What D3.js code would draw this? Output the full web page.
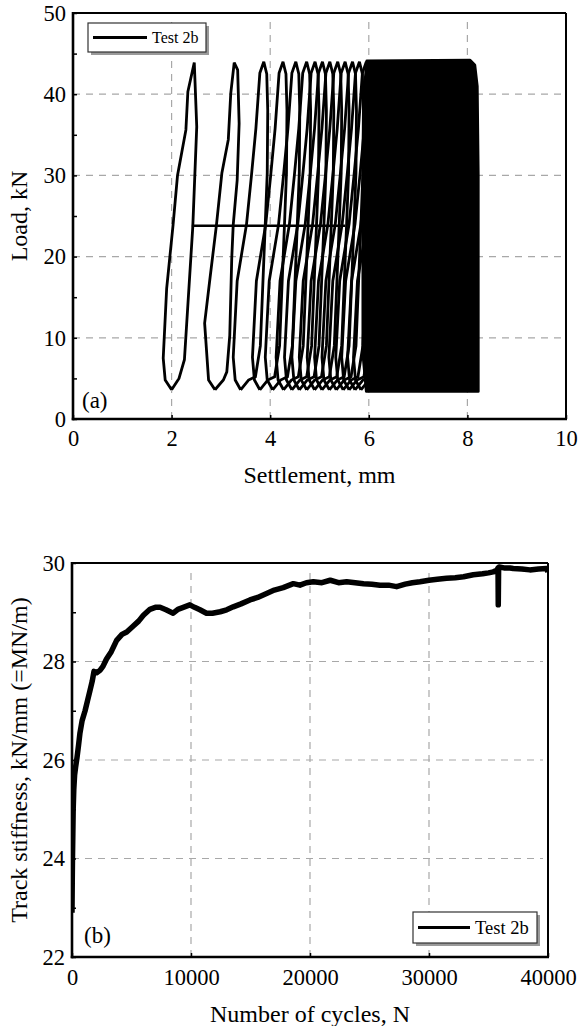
<!DOCTYPE html>
<html>
<head>
<meta charset="utf-8">
<script src="https://cdn.jsdelivr.net/npm/d3@7"></script>
<style>
  html, body { margin: 0; padding: 0; background: #fff; }
  svg { display: block; }
  svg text { font-family: 'Liberation Serif', 'Times New Roman', Tinos, 'DejaVu Serif', serif !important; fill: #000; }
</style>
</head>
<body>
<svg id="chart" width="579" height="1026"></svg>
<script>
// ---------------- DATA ----------------
// Panel (a): load vs settlement
const settlementTicks = [0, 2, 4, 6, 8, 10];
const loadTicks = [0, 10, 20, 30, 40, 50];
const loadMinorTicks = [5, 15, 25, 35, 45];

// first two cycles, explicit points [settlement mm, load kN]
const loop1 = [[2.00,3.6],[1.87,4.8],[1.83,7.5],[1.90,16.1],[2.03,23.9],[2.12,30.0],[2.29,35.6],[2.33,40.3],[2.46,43.9],[2.51,36.0],[2.43,23.7],[2.26,7.3],[2.15,5.0],[2.00,3.6]];
const loop2 = [[2.88,3.6],[2.75,4.8],[2.67,11.8],[2.78,17.4],[2.91,23.9],[3.02,30.3],[3.15,34.4],[3.20,40.1],[3.27,43.9],[3.34,43.0],[3.37,36.4],[3.33,29.4],[3.25,23.9],[3.22,19.8],[3.18,10.3],[3.12,5.8],[3.05,4.8],[2.88,3.6]];
// typical later cycle shape, relative to the cycle's minimum: [settlement offset mm, load kN]
const loopShape = [[0,3.6],[-0.11,4.8],[-0.15,7.6],[-0.07,17],[0.12,24],[0.22,30],[0.31,35.8],[0.39,42.6],[0.47,44],[0.53,42.5],[0.55,38],[0.54,30.3],[0.50,24],[0.40,9],[0.30,5.2],[0.16,4.8],[0,3.6]];
// settlement at the minimum load of each later visible cycle
const loopMins = [3.40, 3.79, 4.05, 4.27, 4.44, 4.59, 4.74, 4.90, 5.05, 5.20, 5.34, 5.48, 5.60, 5.72, 5.84];
// jump segment at constant load
const jumpLine = [[2.41, 23.8], [5.52, 23.8]];
// outline of the densely overlapping cycles (solid black region)
const denseOutline = [[5.95,3.4],[5.88,8],[5.88,30],[5.90,40],[5.96,44.1],[8.05,44.2],[8.15,43.6],[8.20,41],[8.22,30],[8.22,3.4]];

// Panel (b): track stiffness vs number of cycles
const cyclesTicks = [0, 10000, 20000, 30000, 40000];
const stiffnessTicks = [22, 24, 26, 28, 30];
const stiffnessMinorTicks = [23, 25, 27, 29];
const cycles = [0,20,40,70,100,150,220,300,420,550,670,850,1100,1300,1500,1700,1850,2070,2350,2600,2900,3300,3750,4200,4600,5150,5600,6000,6550,7000,7400,7900,8500,8900,9350,9900,10300,10750,11300,11800,12450,13000,13550,14200,14950,15600,16350,17000,17750,18600,19150,19700,20280,21000,21700,22400,23080,23800,24500,25200,25880,26600,27280,28000,28600,29240,30000,30700,31480,32200,32900,33720,34500,35000,35400,35700,35800,35820,35850,35900,36300,36800,37080,37800,38480,39200,39880,40000];
const stiffness = [22.9,23.5,24.0,24.5,25.0,25.4,25.7,25.85,26.05,26.3,26.55,26.8,27.0,27.2,27.4,27.6,27.8,27.77,27.82,27.9,28.05,28.2,28.43,28.55,28.6,28.72,28.82,28.94,29.06,29.1,29.1,29.05,28.98,29.06,29.1,29.15,29.1,29.05,28.98,28.98,29.01,29.05,29.11,29.17,29.25,29.3,29.38,29.45,29.5,29.58,29.55,29.6,29.62,29.6,29.65,29.6,29.62,29.6,29.58,29.57,29.55,29.55,29.52,29.57,29.6,29.62,29.65,29.67,29.69,29.7,29.72,29.76,29.78,29.8,29.82,29.85,29.9,29.15,29.9,29.92,29.9,29.9,29.89,29.88,29.86,29.88,29.89,29.82];
const seriesName = "Test 2b";

// ---------------- DRAWING ----------------
const svg = d3.select("#chart");
const SERIF = "'Liberation Serif', 'Times New Roman', Tinos, 'DejaVu Serif', serif";
const TICK_FONT = 22.5;
const TITLE_FONT = 24;

function panel(cfg) {
  const { x, y, xTicks, yTicks, yMinor, xFmt, xGrid, yGrid, id, xPad } = cfg;
  const [x0, x1] = x.range();
  const [y0, y1] = y.range(); // y0 bottom, y1 top
  const g = svg.append("g").attr("font-family", SERIF);

  g.append("clipPath").attr("id", id).append("rect")
    .attr("x", x0).attr("y", y1).attr("width", x1 - x0).attr("height", y0 - y1);

  // grid
  const grid = g.append("g").attr("stroke", "#a8a8a8").attr("stroke-width", 1.2).attr("stroke-dasharray", "7,6");
  grid.selectAll(".gx").data(xGrid).join("line")
    .attr("x1", d => x(d)).attr("x2", d => x(d)).attr("y1", y0).attr("y2", y1 + 4);
  grid.selectAll(".gy").data(yGrid).join("line")
    .attr("y1", d => y(d)).attr("y2", d => y(d)).attr("x1", x0).attr("x2", x1 - 5);

  const content = g.append("g").attr("clip-path", `url(#${id})`);

  // axes
  const axB = g.append("g").attr("transform", `translate(0,${y0})`)
    .call(d3.axisBottom(x).tickValues(xTicks).tickFormat(xFmt).tickSize(-4).tickPadding(xPad));
  const axL = g.append("g").attr("transform", `translate(${x0},0)`)
    .call(d3.axisLeft(y).tickValues(yTicks).tickFormat(d3.format("d")).tickSize(-4).tickPadding(7));
  const axM = g.append("g").attr("transform", `translate(${x0},0)`)
    .call(d3.axisLeft(y).tickValues(yMinor).tickFormat("").tickSize(-4));
  [axB, axL, axM].forEach(a => {
    a.attr("font-family", SERIF).attr("font-size", TICK_FONT);
    a.select(".domain").remove();
    a.selectAll("line").attr("stroke", "#000").attr("stroke-width", 1.5);
    a.selectAll("text").style("font-family", SERIF).attr("font-size", TICK_FONT).attr("fill", "#000");
  });
  // frame
  g.append("line").attr("x1", x0).attr("x2", x1).attr("y1", y1).attr("y2", y1).attr("stroke", "#000").attr("stroke-width", 2);
  g.append("line").attr("x1", x1).attr("x2", x1).attr("y1", y1).attr("y2", y0).attr("stroke", "#000").attr("stroke-width", 2);
  g.append("line").attr("x1", x0 - 1.25).attr("x2", x1 + 1).attr("y1", y0).attr("y2", y0).attr("stroke", "#000").attr("stroke-width", 2.6);
  g.append("line").attr("x1", x0).attr("x2", x0).attr("y1", y1 - 1).attr("y2", y0 + 1.25).attr("stroke", "#000").attr("stroke-width", 2.6);
  return { g, content };
}

function legend(g, bx, by, w, h, fs, lineLen) {
  const lg = g.append("g").attr("transform", `translate(${bx},${by})`);
  lg.append("rect").attr("x", 3).attr("y", 3).attr("width", w).attr("height", h).attr("fill", "#9a9a9a");
  lg.append("rect").attr("x", 0).attr("y", 0).attr("width", w).attr("height", h).attr("fill", "#fff").attr("stroke", "#333").attr("stroke-width", 1.2);
  lg.append("line").attr("x1", 5).attr("x2", 5 + lineLen).attr("y1", h / 2).attr("y2", h / 2).attr("stroke", "#000").attr("stroke-width", 3);
  lg.append("text").attr("x", 5 + lineLen + 5).attr("y", h / 2).attr("dy", "0.35em").attr("font-size", fs).style("font-family", SERIF).text(seriesName);
}

function label(g, txt, size, attrs) {
  const t = g.append("text").style("font-family", SERIF).attr("font-size", size).text(txt);
  Object.entries(attrs).forEach(([k, v]) => t.attr(k, v));
  return t;
}

// ---- Panel (a)
const xA = d3.scaleLinear().domain([0, 10]).range([73, 566]);
const yA = d3.scaleLinear().domain([0, 50]).range([419, 13]);
const pA = panel({ x: xA, y: yA, xTicks: settlementTicks, yTicks: loadTicks, yMinor: loadMinorTicks,
  xFmt: d3.format("d"), xGrid: [2, 4, 6, 8], yGrid: [10, 20, 30, 40], id: "clipA", xPad: 11 });

const lineA = d3.line().x(d => xA(d[0])).y(d => yA(d[1]));
const allLoops = [loop1, loop2].concat(loopMins.map(m => loopShape.map(p => [m + p[0], p[1]])));
pA.content.append("path").datum(denseOutline)
  .attr("d", d => lineA(d) + "Z").attr("fill", "#000").attr("stroke", "#000").attr("stroke-width", 2.8).attr("stroke-linejoin", "round");
pA.content.selectAll(".loop").data(allLoops).join("path")
  .attr("d", lineA).attr("fill", "none").attr("stroke", "#000").attr("stroke-width", 2.8).attr("stroke-linejoin", "miter").attr("stroke-miterlimit", 3);
pA.content.append("path").datum(jumpLine).attr("d", lineA).attr("fill", "none").attr("stroke", "#000").attr("stroke-width", 2.6);

legend(pA.g, 88, 23, 118, 29, 16, 54);
label(pA.g, "(a)", 23, { x: 82, y: 408 });
label(pA.g, "Settlement, mm", TITLE_FONT, { x: 319.5, y: 483, "text-anchor": "middle" });
label(pA.g, "Load, kN", TITLE_FONT, { transform: "translate(27,216) rotate(-90)", "text-anchor": "middle" });

// ---- Panel (b)
const xB = d3.scaleLinear().domain([0, 40000]).range([72, 548]);
const yB = d3.scaleLinear().domain([22, 30]).range([957, 563]);
const pB = panel({ x: xB, y: yB, xTicks: cyclesTicks, yTicks: stiffnessTicks, yMinor: stiffnessMinorTicks,
  xFmt: d3.format("d"), xGrid: [10000, 20000, 30000], yGrid: [24, 26, 28], id: "clipB", xPad: 12 });

const stiffData = cycles.map((c, i) => [c, stiffness[i]]);
pB.content.append("path").datum(stiffData)
  .attr("d", d3.line().x(d => xB(d[0])).y(d => yB(d[1])))
  .attr("fill", "none").attr("stroke", "#000").attr("stroke-width", 5.5).attr("stroke-linejoin", "round");

legend(pB.g, 413, 912, 124, 31, 18.5, 52);
label(pB.g, "(b)", 23, { x: 84, y: 943 });
label(pB.g, "Number of cycles, N", TITLE_FONT, { x: 310, y: 1022, "text-anchor": "middle" });
label(pB.g, "Track stiffness, kN/mm (=MN/m)", TITLE_FONT, { transform: "translate(27,760) rotate(-90)", "text-anchor": "middle" });
</script>
</body>
</html>
